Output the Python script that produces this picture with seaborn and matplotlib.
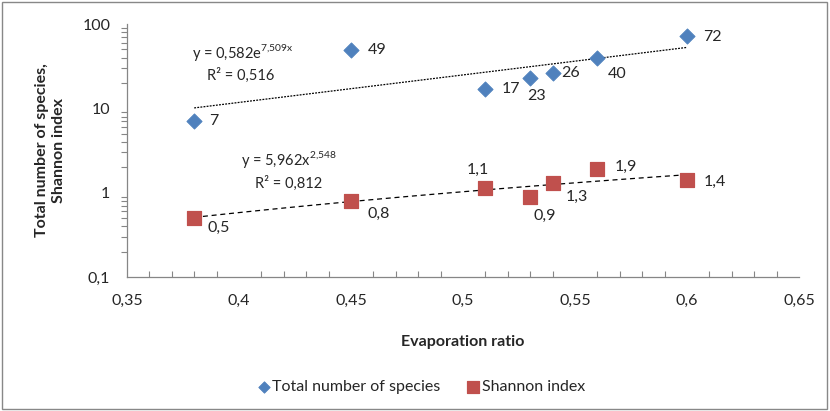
import numpy as np
import pandas as pd
import matplotlib
matplotlib.use('Agg')
import matplotlib.pyplot as plt
import matplotlib.ticker as mticker
from matplotlib.patches import Rectangle
import seaborn as sns

# values
evaporation = [0.38, 0.45, 0.51, 0.53, 0.54, 0.56, 0.60]
species = [7, 49, 17, 23, 26, 40, 72]
shannon = [0.5, 0.8, 1.15, 0.9, 1.3, 1.9, 1.4]
species_labels = ['7', '49', '17', '23', '26', '40', '72']
shannon_labels = ['0,5', '0,8', '1,1', '0,9', '1,3', '1,9', '1,4']

blue = '#4F81BD'
red = '#C0504D'
txt = '#262626'
fs = 11.5

df = pd.DataFrame({'x': evaporation, 'species': species, 'shannon': shannon})

sns.set_style('white')
plt.rcParams['font.family'] = ['Lato', 'DejaVu Sans']
plt.rcParams['mathtext.fontset'] = 'custom'
plt.rcParams['mathtext.rm'] = 'Lato'
plt.rcParams['font.size'] = fs

fig = plt.figure(figsize=(8.3, 4.11), dpi=100)
ax = fig.add_axes([127 / 830, 1 - 277 / 411, 672 / 830, 253 / 411])
fig.patches.append(Rectangle((0.003, 0.005), 0.993, 0.99, transform=fig.transFigure,
                             fill=False, edgecolor='#888888', linewidth=1))

sns.scatterplot(data=df, x='x', y='species', marker='D', s=60, color=blue,
                edgecolor=blue, ax=ax, label='Total number of species', zorder=3)
sns.scatterplot(data=df, x='x', y='shannon', marker='s', s=115, color=red,
                edgecolor=red, ax=ax, label='Shannon index', zorder=3)

# trendlines: exponential for species, power for Shannon
xs = np.linspace(min(evaporation), max(evaporation), 100)
b, ln_a = np.polyfit(df['x'], np.log(df['species']), 1)
ax.plot(xs, np.exp(ln_a) * np.exp(b * xs), color='black', lw=0.9, ls=(0, (1.5, 1)), zorder=2)
p, ln_c = np.polyfit(np.log(df['x']), np.log(df['shannon']), 1)
ax.plot(xs, np.exp(ln_c) * xs ** p, color='black', lw=0.9, ls=(0, (4, 3)), zorder=2)

# point labels (offsets in pixels)
sp_off = [(15, 0), (17, 0), (16, 0), (-3, -18), (9, 0), (10, -16), (16, -1)]
for x, y, t, (dx, dy) in zip(evaporation, species, species_labels, sp_off):
    ax.annotate(t, (x, y), xytext=(dx, dy), textcoords='offset pixels', fontsize=fs,
                color=txt, va='center', ha='left')
sh_off = [(13, -10), (16, -13), (-19, 18), (3, -19), (13, -14), (17, 2), (17, -2)]
for x, y, t, (dx, dy) in zip(evaporation, shannon, shannon_labels, sh_off):
    ax.annotate(t, (x, y), xytext=(dx, dy), textcoords='offset pixels', fontsize=fs,
                color=txt, va='center', ha='left')

fig.text(192 / 830, 1 - 52 / 411, r'y = 0,582e$^{\mathrm{7{,}509x}}$', fontsize=10.5, color=txt, va='center')
fig.text(207 / 830, 1 - 75 / 411, 'R² = 0,516', fontsize=10.5, color=txt, va='center')
fig.text(241 / 830, 1 - 160 / 411, r'y = 5,962x$^{\mathrm{2{,}548}}$', fontsize=10.5, color=txt, va='center')
fig.text(255 / 830, 1 - 183 / 411, 'R² = 0,812', fontsize=10.5, color=txt, va='center')

ax.set_yscale('log')
ax.set_xlim(0.35, 0.65)
ax.set_ylim(0.1, 100)
ax.xaxis.set_major_locator(mticker.MultipleLocator(0.05))
ax.xaxis.set_minor_locator(mticker.MultipleLocator(0.01))
ax.xaxis.set_major_formatter(mticker.FuncFormatter(lambda v, _: f'{v:g}'.replace('.', ',')))
ax.yaxis.set_major_locator(mticker.LogLocator(base=10))
ax.yaxis.set_minor_locator(mticker.LogLocator(base=10, subs=np.arange(2, 10)))
ax.yaxis.set_minor_formatter(mticker.NullFormatter())
ax.yaxis.set_major_formatter(mticker.FuncFormatter(lambda v, _: f'{v:g}'.replace('.', ',')))

for side in ['top', 'right']:
    ax.spines[side].set_visible(False)
for side in ['left', 'bottom']:
    ax.spines[side].set_color('#868686')
    ax.spines[side].set_linewidth(0.9)
ax.tick_params(which='major', direction='inout', length=8, width=0.9, color='#868686',
               labelsize=fs, labelcolor=txt)
ax.tick_params(axis='y', which='minor', direction='out', length=4, width=0.8, color='#868686', left=True)
ax.tick_params(axis='x', which='minor', direction='in', length=4, width=0.8, color='#868686', bottom=True)
ax.tick_params(axis='x', which='major', pad=8)
ax.tick_params(axis='y', which='major', pad=8)

ax.set_xlabel('Evaporation ratio', fontsize=fs, fontweight='bold', labelpad=20, color=txt)
ax.set_ylabel('Total number of species,\nShannon index', fontsize=fs, fontweight='bold',
              labelpad=12, color=txt)

ax.legend(loc='center', bbox_to_anchor=(421 / 830, 1 - 387 / 411), bbox_transform=fig.transFigure,
          ncol=2, frameon=False, fontsize=fs, handletextpad=0.1, handlelength=0.9,
          columnspacing=1.6, markerscale=0.75, labelcolor=txt)

fig.savefig('out.png', dpi=100)
